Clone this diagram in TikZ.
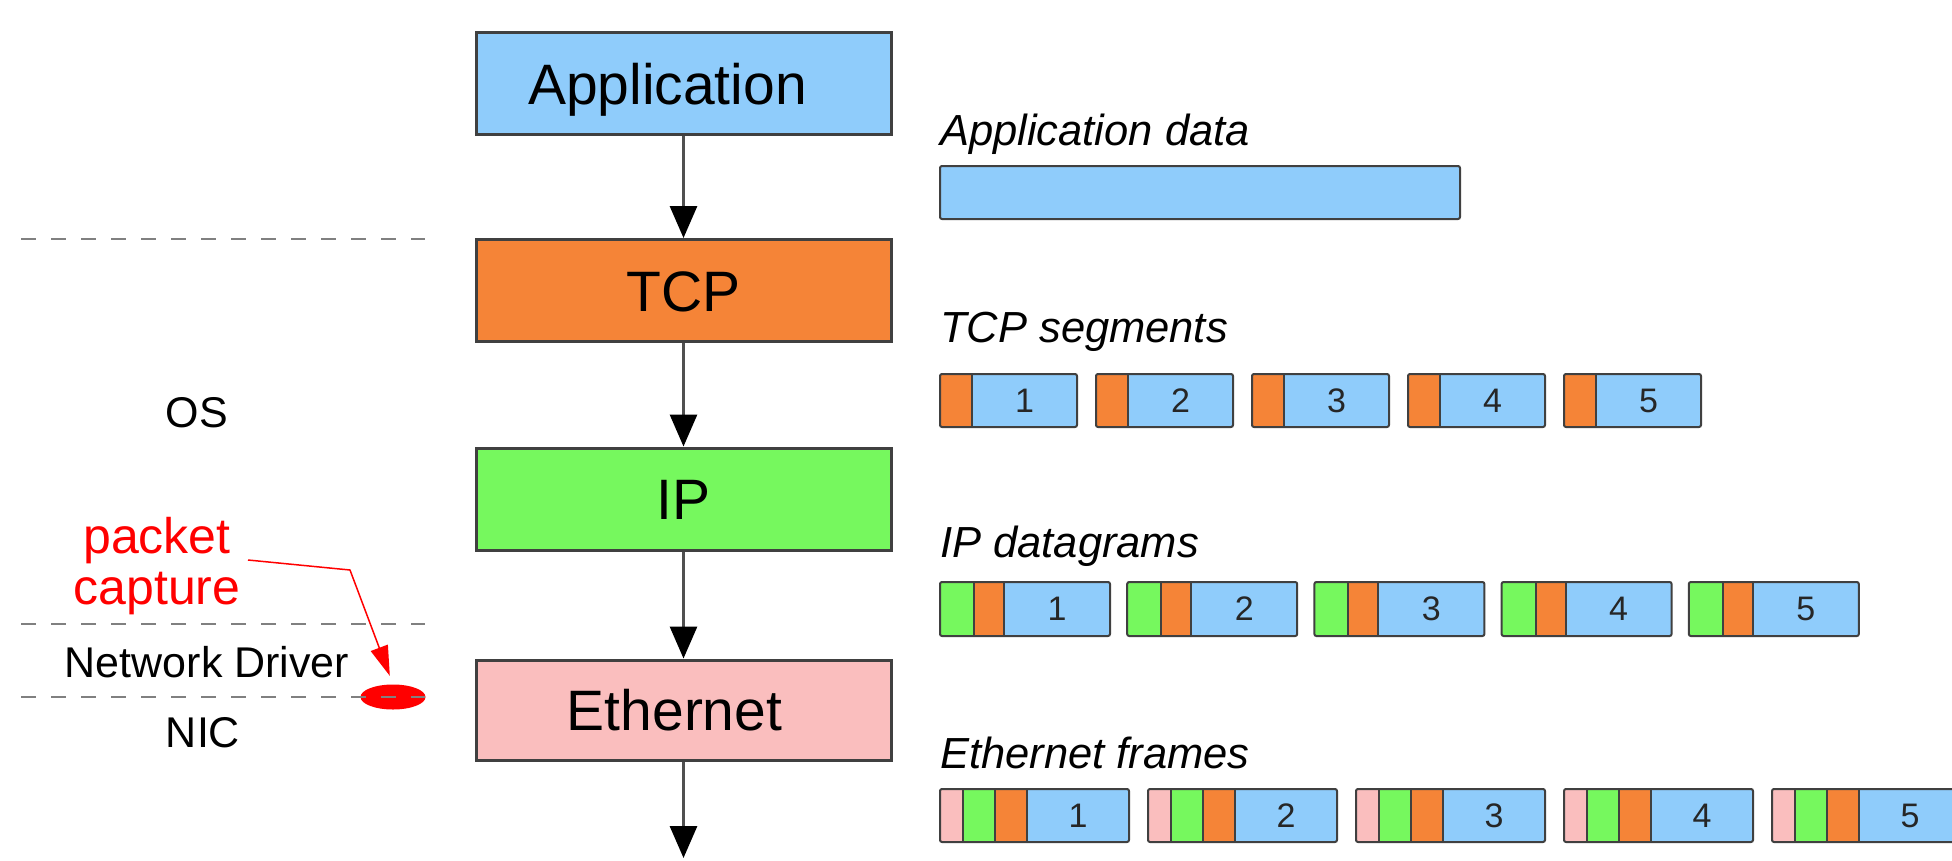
\documentclass[tikz,border=0pt]{standalone}
\usepackage{fontspec}
\setmainfont{Liberation Sans}
\usetikzlibrary{arrows.meta,shapes.geometric}

\definecolor{appblue}{RGB}{143,204,251}
\definecolor{tcporange}{RGB}{245,132,55}
\definecolor{ipgreen}{RGB}{118,248,94}
\definecolor{ethpink}{RGB}{250,190,190}
\definecolor{edge}{RGB}{64,64,64}
\definecolor{sepgray}{RGB}{128,128,128}
\definecolor{shaft}{RGB}{80,80,80}
\definecolor{capred}{RGB}{255,0,0}

\begin{document}
\begin{tikzpicture}[x=1pt,y=-1pt,
  layer/.style={draw=edge, line width=3pt, minimum width=415pt, minimum height=102pt,
    inner sep=0pt, font=\fontsize{57}{60}\selectfont, text height=41pt, text depth=0pt},
  flow/.style={draw=shaft, line width=3pt, -{Triangle[width=27pt,length=32pt,color=black]}},
  sepline/.style={draw=sepgray, line width=2pt, dash pattern=on 15pt off 15pt},
  side/.style={font=\fontsize{43}{46}\selectfont, inner sep=0pt, anchor=base},
  caption/.style={font=\fontsize{43.5}{46}\selectfont\itshape, inner sep=0pt, anchor=base west},
  pkt/.style={draw=edge, line width=2pt},
  pktbox/.style={draw=edge, line width=2pt, rounded corners=2pt},
  num/.style={font=\fontsize{34}{36}\selectfont, text=black!85, inner sep=0pt},
]
\useasboundingbox (0,0) rectangle (1952,860);
\clip (0,0) rectangle (1952,860);
\fill[white] (0,0) rectangle (1952,860);

% protocol stack
\node[layer, fill=appblue]   (app) at (683.5,83.5) {Application\hspace*{32pt}};
\node[layer, fill=tcporange] (tcp) at (683.5,290.5) {TCP};
\node[layer, fill=ipgreen]   (ip)  at (683.5,499)  {IP};
\node[layer, fill=ethpink, minimum height=100pt] (eth) at (683.5,710) {Ethernet\hspace*{18pt}};
\coordinate (wire) at (683.5,858);

\draw[flow] (app) -- (tcp);
\draw[flow] (tcp) -- (ip);
\draw[flow] (ip) -- (eth);
\draw[flow] (eth) -- (wire);

% capture point on the driver/NIC boundary
\node[ellipse, fill=capred, minimum width=65pt, minimum height=25pt, inner sep=0pt] (cap) at (393,697) {};

% layer boundaries
\draw[sepline] (21,239) -- (425,239);
\draw[sepline] (21,624) -- (425,624);
\draw[sepline] (21,697) -- (425,697);

\node[side] (os)  at (197,427) {OS};
\node[side] (drv) at (207,677) {Network Driver};
\node[side] (nic) at (203,747) {NIC};

\node[font=\fontsize{50}{51}\selectfont, text=capred, align=center, inner sep=0pt] (pcl) at (157,566) {packet\\capture};
\coordinate (pcstart) at (248,560);
\coordinate (pcbend) at (350,570);
\draw[capred, line width=1.5pt, -{Triangle[width=18pt,length=30pt]}, shorten >=9pt]
  (pcstart) -- (pcbend) -- (cap.north);

% encapsulation rows
\node[caption] (lapp) at (940,145) {Application data};
\fill[appblue] (940,166) rectangle (1460,219);
\draw[pktbox] (940,166) rectangle (1460,219);

\node[caption] (ltcp) at (940,342) {TCP segments};
\foreach \i [evaluate=\i as \x using {940+156*(\i-1)}] in {1,...,5} {
  \fill[tcporange] (\x,374) rectangle (\x+32,427);
  \fill[appblue] (\x+32,374) rectangle (\x+137,427);
  \draw[pkt] (\x+32,374) -- (\x+32,427);
  \draw[pktbox] (\x,374) rectangle (\x+137,427);
  \node[num] at (\x+84.5,400.5) {\i};
}

\node[caption] (lip) at (940,557) {IP datagrams};
\foreach \i [evaluate=\i as \x using {940+187.2*(\i-1)}] in {1,...,5} {
  \fill[ipgreen] (\x,582) rectangle (\x+34,636);
  \fill[tcporange] (\x+34,582) rectangle (\x+64,636);
  \fill[appblue] (\x+64,582) rectangle (\x+170,636);
  \draw[pkt] (\x+34,582) -- (\x+34,636);
  \draw[pkt] (\x+64,582) -- (\x+64,636);
  \draw[pktbox] (\x,582) rectangle (\x+170,636);
  \node[num] at (\x+117,609) {\i};
}

\node[caption] (leth) at (940,768) {Ethernet frames};
\foreach \i [evaluate=\i as \x using {940+208*(\i-1)}] in {1,...,5} {
  \fill[ethpink] (\x,789) rectangle (\x+23,842);
  \fill[ipgreen] (\x+23,789) rectangle (\x+55,842);
  \fill[tcporange] (\x+55,789) rectangle (\x+87,842);
  \fill[appblue] (\x+87,789) rectangle (\x+189,842);
  \draw[pkt] (\x+23,789) -- (\x+23,842);
  \draw[pkt] (\x+55,789) -- (\x+55,842);
  \draw[pkt] (\x+87,789) -- (\x+87,842);
  \draw[pktbox] (\x,789) rectangle (\x+189,842);
  \node[num] at (\x+138,815.5) {\i};
}
\end{tikzpicture}
\end{document}
